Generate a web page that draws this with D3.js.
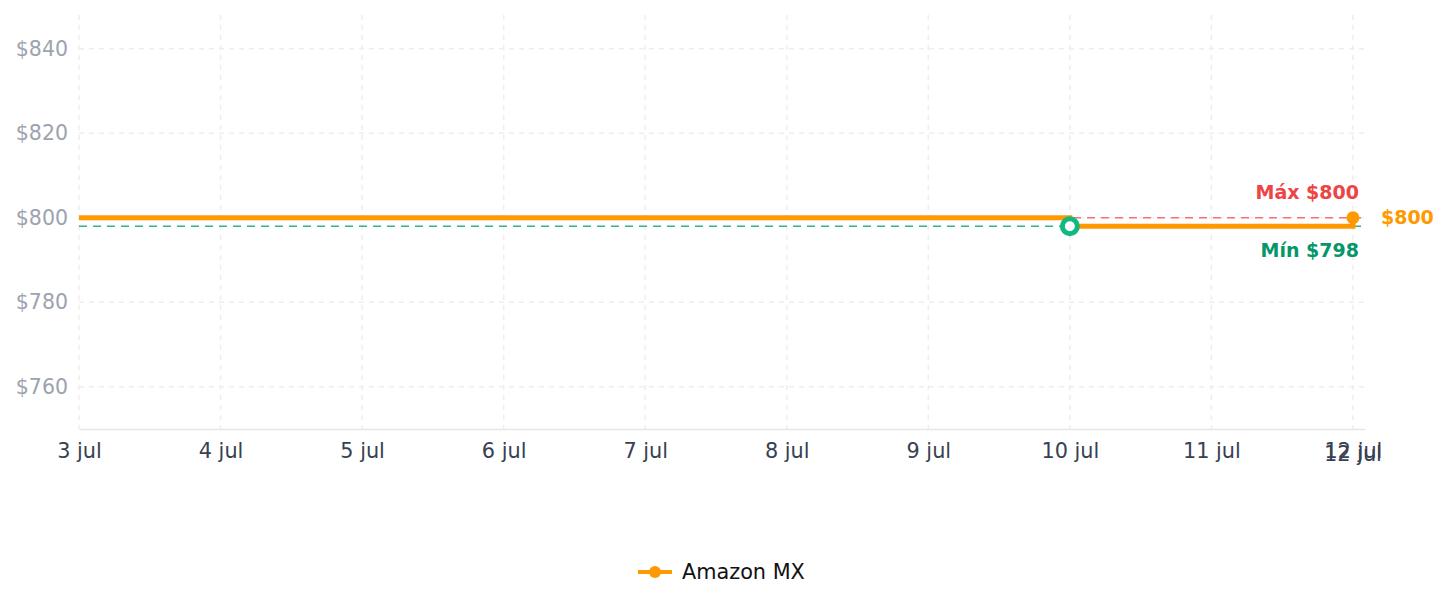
<!DOCTYPE html>
<html>
<head>
<meta charset="utf-8">
<script src="https://cdn.jsdelivr.net/npm/d3@7"></script>
<style>
  body { margin: 0; background: #fff; font-family: "DejaVu Sans", sans-serif; }
</style>
</head>
<body>
<script>
// price history (MXN)
const dates = ["2024-07-03", "2024-07-04", "2024-07-05", "2024-07-06", "2024-07-07",
               "2024-07-08", "2024-07-09", "2024-07-10", "2024-07-11", "2024-07-12"];
const prices = [800, 800, 800, 800, 800, 800, 800, 798, 798, 800];
const seriesName = "Amazon MX";
const yTicks = [760, 780, 800, 820, 840];
const maxPrice = 800, minPrice = 798;

const W = 1447, H = 607;
const margin = {top: 15, right: 82, bottom: 178, left: 79};
const width = W - margin.left - margin.right;
const height = H - margin.top - margin.bottom;

const parse = d3.timeParse("%Y-%m-%d");
const data = dates.map((d, i) => ({date: parse(d), price: prices[i]}));

const svg = d3.select("body").append("svg")
  .attr("width", W).attr("height", H);
const g = svg.append("g").attr("transform", `translate(${margin.left},${margin.top})`);

const x0 = data[0].date, x1 = data[data.length - 1].date;
const xEnd = new Date(+x1 + 0.085 * 864e5);
const x = d3.scaleTime().domain([x0, xEnd]).range([0, width]);
const y = d3.scaleLinear().domain([750, 848]).range([height, 0]);

const days = d3.timeDay.range(x0, d3.timeDay.offset(x1, 1));
const fmt = d => `${d.getDate()} jul`;

// grid
g.append("g").selectAll("line").data(days).join("line")
  .attr("x1", d => x(d)).attr("x2", d => x(d))
  .attr("y1", 0).attr("y2", height)
  .attr("stroke", "#eeeeee").attr("stroke-width", 1.5).attr("stroke-dasharray", "5,5");
g.append("g").selectAll("line").data(yTicks).join("line")
  .attr("x1", 0).attr("x2", width)
  .attr("y1", d => y(d)).attr("y2", d => y(d))
  .attr("stroke", "#eeeeee").attr("stroke-width", 1.5).attr("stroke-dasharray", "5,5");

// y axis
const yAxis = g.append("g").call(d3.axisLeft(y).tickValues(yTicks).tickSize(0).tickPadding(11).tickFormat(d => `$${d}`));
yAxis.select(".domain").remove();
yAxis.selectAll("text").attr("fill", "#9ca3af").style("font-size", "20.5px").style("font-family", "DejaVu Sans");

// x axis
const xAxis = g.append("g").attr("transform", `translate(0,${height})`)
  .call(d3.axisBottom(x).tickValues(days).tickSize(0).tickPadding(14).tickFormat(fmt));
xAxis.select(".domain").attr("stroke", "#e5e7eb").attr("stroke-width", 1.5);
xAxis.selectAll("text").attr("fill", "#374151").style("font-size", "20.8px").style("font-family", "DejaVu Sans");
// duplicated last label slightly lower
g.append("text")
  .attr("x", x(x1)).attr("y", height + 32)
  .attr("text-anchor", "middle").attr("fill", "#374151")
  .style("font-size", "20.8px").text(fmt(x1));

// max / min reference lines
g.append("line").attr("x1", 0).attr("x2", width)
  .attr("y1", y(maxPrice)).attr("y2", y(maxPrice))
  .attr("stroke", "#f87171").attr("stroke-width", 1.5).attr("stroke-dasharray", "8,6");
g.append("line").attr("x1", 0).attr("x2", width)
  .attr("y1", y(minPrice)).attr("y2", y(minPrice))
  .attr("stroke", "#34b38a").attr("stroke-width", 1.5).attr("stroke-dasharray", "8,6");

// price line
const line = d3.line().x(d => x(d.date)).y(d => y(d.price)).curve(d3.curveStepAfter);
g.append("path").datum(data)
  .attr("d", line).attr("fill", "none")
  .attr("stroke", "#ff9900").attr("stroke-width", 5);

// min marker
const minPt = data.find(d => d.price === minPrice);
g.append("circle").attr("cx", x(minPt.date)).attr("cy", y(minPt.price)).attr("r", 7.5)
  .attr("fill", "#fff").attr("stroke", "#10b981").attr("stroke-width", 5);

// last point
const last = data[data.length - 1];
g.append("circle").attr("cx", x(last.date)).attr("cy", y(last.price)).attr("r", 6.5)
  .attr("fill", "#ff9900");
g.append("text").attr("x", x(last.date) + 28).attr("y", y(last.price))
  .attr("dy", "0.35em").attr("fill", "#ff9900")
  .style("font-size", "19px").style("font-weight", "bold").text(`$${last.price}`);

// labels
g.append("text").attr("x", x(last.date) + 6).attr("y", y(maxPrice) - 19)
  .attr("text-anchor", "end").attr("fill", "#ef4444")
  .style("font-size", "19px").style("font-weight", "bold").text(`Máx $${maxPrice}`);
g.append("text").attr("x", x(last.date) + 6).attr("y", y(minPrice) + 31)
  .attr("text-anchor", "end").attr("fill", "#059669")
  .style("font-size", "19px").style("font-weight", "bold").text(`Mín $${minPrice}`);

// legend
const lg = svg.append("g").attr("transform", "translate(638,572)");
lg.append("line").attr("x1", 0).attr("x2", 34).attr("stroke", "#ff9900").attr("stroke-width", 4);
lg.append("circle").attr("cx", 17).attr("r", 6).attr("fill", "#ff9900");
lg.append("text").attr("x", 44).attr("dy", "0.35em").attr("fill", "#111")
  .style("font-size", "20.8px").text(seriesName);
</script>
</body>
</html>
